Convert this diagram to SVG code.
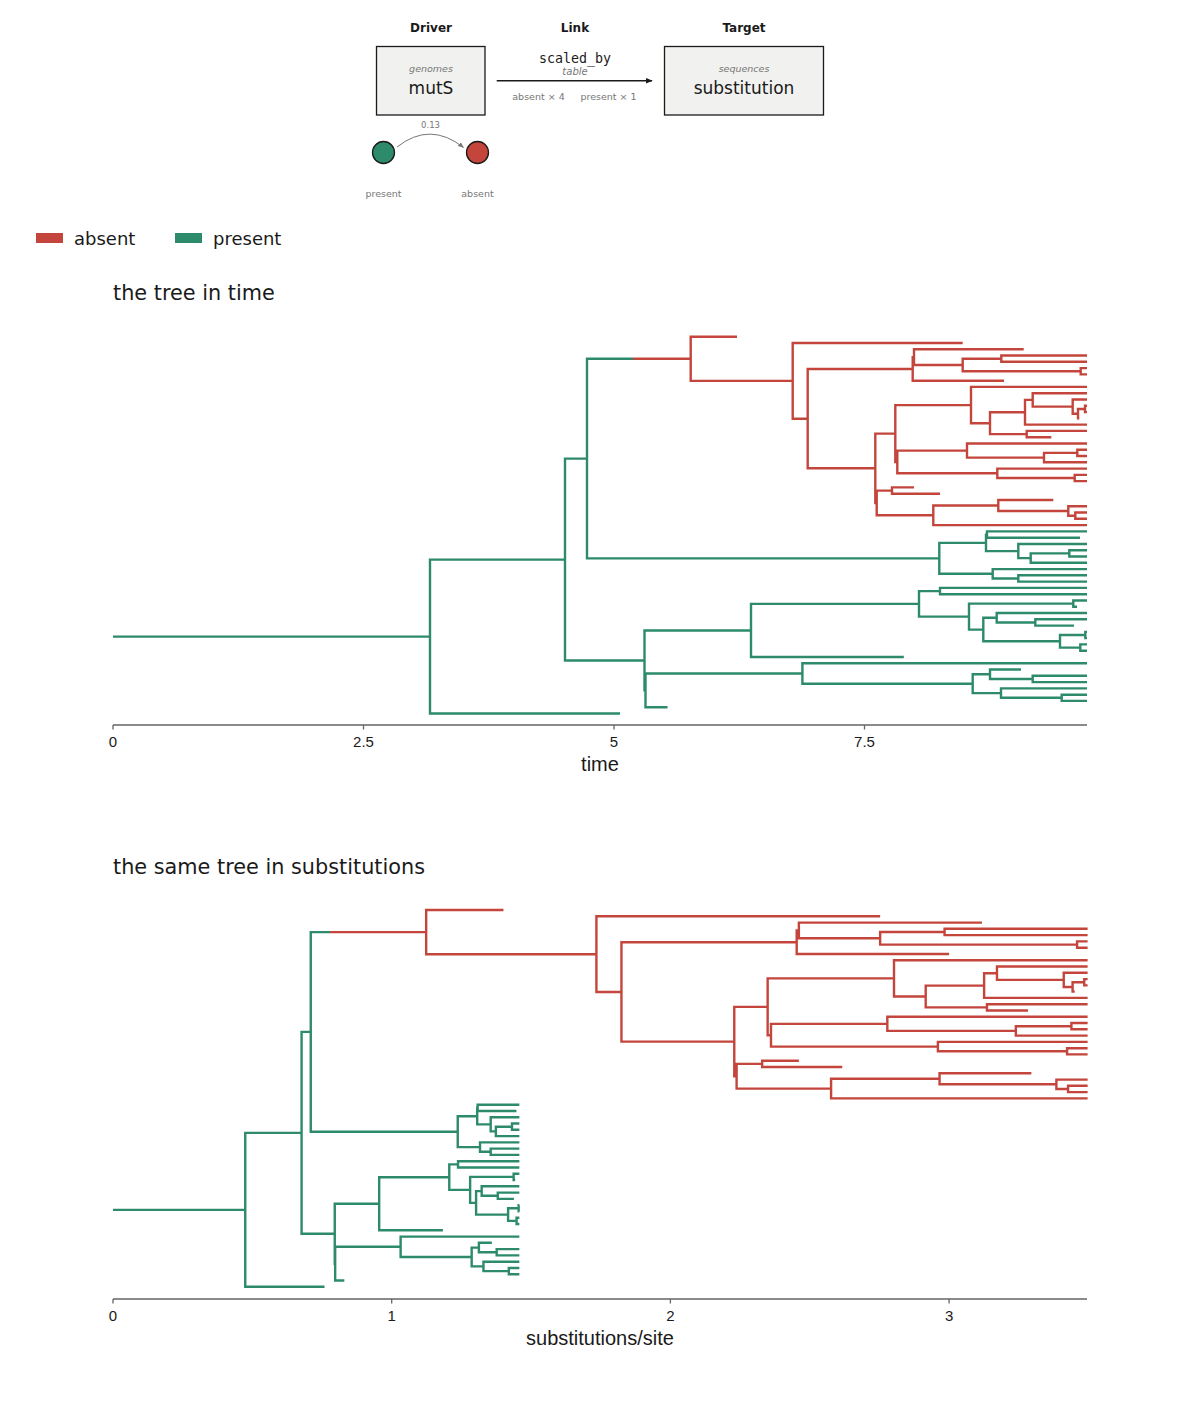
<svg xmlns="http://www.w3.org/2000/svg" xmlns:xlink="http://www.w3.org/1999/xlink" width="1200" height="1425" viewBox="0 0 1200 1425">
<style>
.hdr{font-family:"DejaVu Sans",sans-serif;font-weight:bold;font-size:12px;fill:#1a1a1a;text-anchor:middle}
.box{fill:#f1f1ef;stroke:#1a1a1a;stroke-width:1.3}
.kind{font-family:"DejaVu Sans",sans-serif;font-style:italic;font-size:9.5px;fill:#777;text-anchor:middle}
.big{font-family:"DejaVu Sans",sans-serif;font-size:17px;fill:#1a1a1a;text-anchor:middle}
.small{font-family:"DejaVu Sans",sans-serif;font-size:9.5px;fill:#777;text-anchor:middle}
.mono{font-family:"DejaVu Sans Mono",monospace;font-size:13.3px;fill:#1a1a1a;text-anchor:middle}
.leg{font-family:"DejaVu Sans",sans-serif;font-size:18px;fill:#1a1a1a}
.title{font-family:"DejaVu Sans",sans-serif;font-size:20.8px;fill:#1a1a1a}
.tick{font-family:"Liberation Sans",Arial,sans-serif;font-size:15px;fill:#1a1a1a;text-anchor:middle}
.axlab{font-family:"Liberation Sans",Arial,sans-serif;font-size:20px;fill:#1a1a1a;text-anchor:middle}
.axis{stroke:#666;stroke-width:1.3;fill:none}
.tr{fill:none;stroke-width:2.4;stroke-linejoin:miter;stroke-linecap:butt;vector-effect:non-scaling-stroke}
.red{stroke:#c4453b}
.grn{stroke:#2d8a6b}
</style>
<defs>
<marker id="arr" viewBox="0 0 10 10" refX="9" refY="5" markerWidth="7" markerHeight="7" orient="auto" markerUnits="userSpaceOnUse">
<path d="M0 1 L10 5 L0 9 Z" fill="#1a1a1a"/>
</marker>
<marker id="arrs" viewBox="0 0 10 10" refX="9" refY="5" markerWidth="6" markerHeight="6" orient="auto" markerUnits="userSpaceOnUse">
<path d="M0 1 L10 5 L0 9 Z" fill="#777"/>
</marker>
</defs>

<text class="hdr" x="431" y="32">Driver</text>
<text class="hdr" x="575" y="32">Link</text>
<text class="hdr" x="744" y="32">Target</text>

<g id="driver">
<rect class="box" x="376.5" y="46.5" width="108.5" height="68.5"/>
<text class="kind" x="431" y="72">genomes</text>
<text class="big" x="431" y="94">mutS</text>
</g>
<g id="target">
<rect class="box" x="664.5" y="46.5" width="159" height="68.5"/>
<text class="kind" x="744" y="72">sequences</text>
<text class="big" x="744" y="94">substitution</text>
</g>
<g id="state-present">
<circle cx="383.5" cy="152.5" r="11" fill="#2d8a6b" stroke="#1a1a1a" stroke-width="1.3"/>
<text class="small" x="383.5" y="197">present</text>
</g>
<g id="state-absent">
<circle cx="477.5" cy="152.5" r="11" fill="#c4453b" stroke="#1a1a1a" stroke-width="1.3"/>
<text class="small" x="477.5" y="197">absent</text>
</g>
<g id="connectors">
<line x1="496.7" y1="80.7" x2="652" y2="80.7" stroke="#1a1a1a" stroke-width="1.4" marker-end="url(#arr)"/>
<text class="mono" x="575" y="63">scaled_by</text>
<text class="kind" x="575" y="75" style="font-size:10px">table</text>
<text class="small" x="538.5" y="100">absent × 4</text>
<text class="small" x="608.5" y="100">present × 1</text>
<path d="M397 147 Q430 121 463.5 147.5" fill="none" stroke="#777" stroke-width="1" marker-end="url(#arrs)"/>
<text class="small" x="430.5" y="128" style="font-size:8.5px">0.13</text>
</g>

<g id="legend">
<rect x="36" y="233" width="27" height="10" fill="#c4453b"/>
<text class="leg" x="74" y="245">absent</text>
<rect x="175" y="233" width="27" height="10" fill="#2d8a6b"/>
<text class="leg" x="213" y="245">present</text>
</g>

<text class="title" x="113" y="300">the tree in time</text>
<text class="title" x="113" y="874">the same tree in substitutions</text>

<g id="tree-time">
<path id="t1red" class="tr red" d="M633 358.8 H690.7
M737 336.7 H690.7 V380.9 H792.7
M962.7 343 H792.7 V418.7 H807.7
M912.7 369 H807.7 V468.3 H875.3
M914 357.2 H912.7 V380.7 H1004
M1023.7 349.3 H914 V365 H962.7
M1001.3 358.7 H962.7 V371.3 H1080.7
M1087 355.5 H1001.3 V361.8 H1087
M1087 368.1 H1080.7 V374.4 H1087
M895.3 433.6 H875.3 V503 H876.7
M892 490.6 H876.7 V515.3 H933.3
M971 405.1 H895.3 V462 H897.3
M967 450.6 H897.3 V473.3 H997.3
M1087 386.9 H971 V423.2 H990
M1025 412.3 H990 V434.1 H1026.7
M1032.7 399.9 H1025 V424.6 H1087
M1087 393.2 H1032.7 V406.6 H1072.7
M1087 399.5 H1072.7 V413.7 H1078
M1085 409 H1078 V418.3 H1079.3
M1087 405.8 H1085 V412.1 H1087
M1087 430.9 H1026.7 V437.2 H1051.3
M1087 443.5 H967 V457.6 H1044
M1077.3 452.9 H1044 V462.3 H1087
M1087 449.7 H1077.3 V456 H1087
M1087 468.6 H997.3 V478 H1074.7
M1087 474.9 H1074.7 V481.1 H1087
M914 487.4 H892 V493.7 H940
M998.3 505.5 H933.3 V525.1 H1087
M1053.3 500 H998.3 V511 H1068.3
M1087 506.3 H1068.3 V515.7 H1075.3
M1087 512.5 H1075.3 V518.8 H1087"/>
<path id="t1grn" class="tr grn" d="M113 636.6 H430
M565 559.6 H430 V713.5 H620
M587 458.6 H565 V660.5 H644.5
M633 358.8 H587 V558.4 H939.3
M986 542.9 H939.3 V573.8 H992.7
M987 534.6 H986 V551.1 H1018.3
M1087 531.4 H987 V537.7 H1080
M1087 544 H1018.3 V558.1 H1030.7
M1069.3 553.4 H1030.7 V562.8 H1087
M1087 550.2 H1069.3 V556.5 H1087
M1087 569.1 H992.7 V578.5 H1018.3
M1087 575.3 H1018.3 V581.6 H1087
M751 630.5 H644.5 V690.4 H645.5
M802.4 673.5 H645.5 V707.2 H667.5
M919 603.9 H751 V657 H903.8
M940 591.1 H919 V616.6 H969
M1087 587.9 H940 V594.2 H1087
M1073.3 603.6 H969 V629.6 H983.3
M1087 600.5 H1073.3 V606.7 H1077
M996.7 617.8 H983.3 V641.3 H1060
M1087 613 H996.7 V622.5 H1035.3
M1087 619.3 H1035.3 V625.6 H1074
M1085.3 635 H1060 V647.6 H1080.3
M1087 631.9 H1085.3 V638.1 H1087
M1087 644.4 H1080.3 V650.7 H1087
M1087 663.3 H802.4 V683.7 H972.7
M990 674.3 H972.7 V693.1 H1001
M1021 669.5 H990 V679 H1032.7
M1087 675.8 H1032.7 V682.1 H1087
M1087 688.4 H1001 V697.8 H1061.7
M1087 694.7 H1061.7 V700.9 H1087"/>
</g>

<g id="axis-time">
<path class="axis" d="M113 725 H1087 M113 725 V729.5 M363.5 725 V729.5 M614 725 V729.5 M864.5 725 V729.5"/>
<text class="tick" x="113" y="747">0</text>
<text class="tick" x="363.5" y="747">2.5</text>
<text class="tick" x="614" y="747">5</text>
<text class="tick" x="864.5" y="747">7.5</text>
<text class="axlab" x="600" y="771">time</text>
</g>

<g id="tree-subs">
<use xlink:href="#t1red" href="#t1red" transform="matrix(1.669 0 0 1 -726.6 573.3)"/>
<use xlink:href="#t1grn" href="#t1grn" transform="matrix(0.4172 0 0 1 65.86 573.3)"/>
</g>

<g id="axis-subs">
<path class="axis" d="M113 1299 H1087 M113 1299 V1303.5 M391.7 1299 V1303.5 M670.4 1299 V1303.5 M949.1 1299 V1303.5"/>
<text class="tick" x="113" y="1321">0</text>
<text class="tick" x="391.7" y="1321">1</text>
<text class="tick" x="670.4" y="1321">2</text>
<text class="tick" x="949.1" y="1321">3</text>
<text class="axlab" x="600" y="1345">substitutions/site</text>
</g>
</svg>
